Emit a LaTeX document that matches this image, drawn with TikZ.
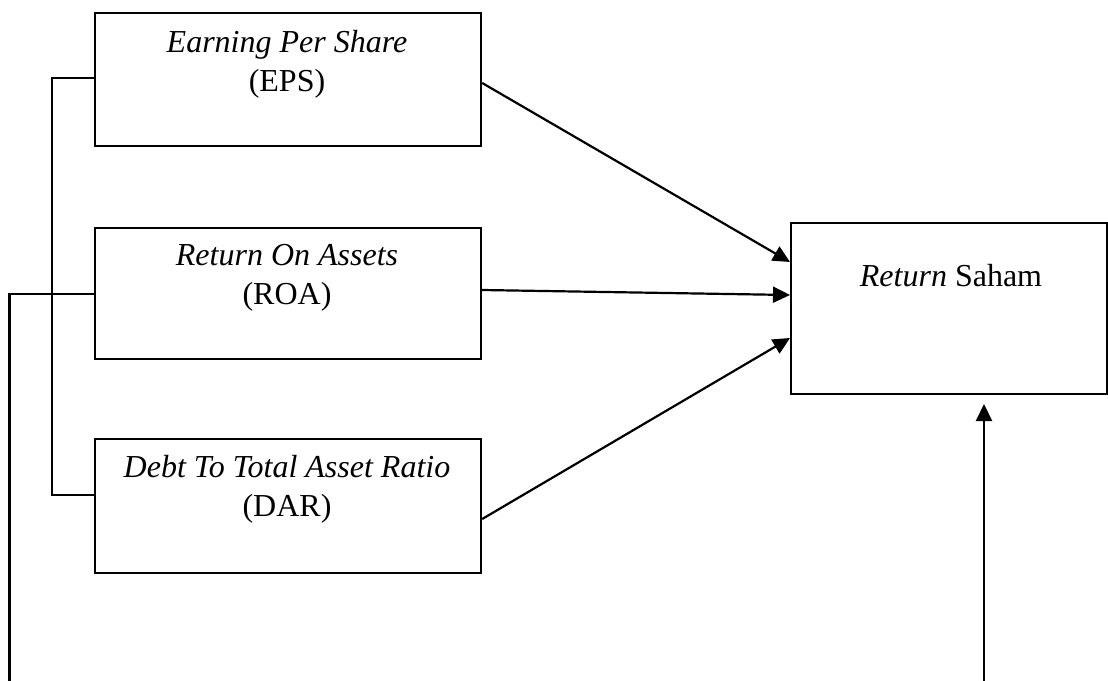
\documentclass[tikz,border=0pt]{standalone}
\usepackage{fontspec}
\setmainfont{Liberation Serif}
\usetikzlibrary{arrows.meta}
\begin{document}
\begin{tikzpicture}[x=1pt,y=-1pt,
  box/.style={draw, line width=2.2pt, inner sep=0pt, anchor=north west},
  lbl/.style={inner sep=0pt, align=center, font=\fontsize{32}{39}\selectfont},
  conn/.style={line width=2.2pt},
  arr/.style={line width=2.2pt, -{Triangle[length=17pt,width=16pt]}}]
\useasboundingbox (0,0) rectangle (1108,680);
\node[box, minimum width=386pt, minimum height=133pt] (eps) at (94,12) {};
\node[box, minimum width=386pt, minimum height=131pt] (roa) at (94,227) {};
\node[box, minimum width=386pt, minimum height=134pt] (dar) at (94,438) {};
\node[box, minimum width=316pt, minimum height=171pt] (ret) at (790,222) {};
\node[lbl] (epst) at (287,64) {\textit{Earning Per Share}\\(EPS)};
\node[lbl] (roat) at (287,278) {\textit{Return On Assets}\\(ROA)};
\node[lbl] (dart) at (287,489) {\textit{Debt To Total Asset Ratio}\\(DAR)};
\node[lbl] (rett) at (951,276) {\textit{Return} Saham};
% bracket
\coordinate (b1) at (52,78);
\coordinate (b2) at (52,495);
\draw[conn] (b1 -| eps.west) -- (b1) -- (b2) -- (b2 -| dar.west);
% outer line
\coordinate (o0) at (9.5,681);
\coordinate (o1) at (9.5,294);
\draw[conn] (o0) -- (o1) -- (o1 -| roa.west);
% arrows into Return Saham
\draw[arr] (eps.east |- 0,83) -- (ret.west |- 0,262);
\draw[arr] (roa.east |- 0,290) -- (ret.west |- 0,295);
\draw[arr] (dar.east |- 0,519) -- (ret.west |- 0,338);
\coordinate (u0) at (984,681);
\draw[arr] (u0) -- (u0 |- 0,404);
\end{tikzpicture}
\end{document}
